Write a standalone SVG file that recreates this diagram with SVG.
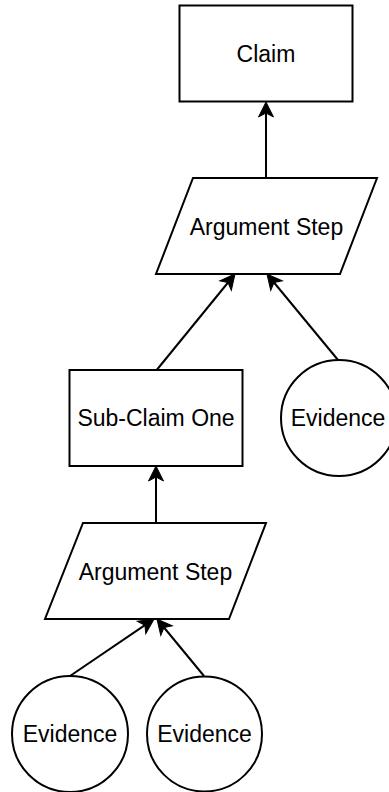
<svg xmlns="http://www.w3.org/2000/svg" width="389" height="792" viewBox="0 0 389 792">
  <style>
    .shape { fill: #ffffff; stroke: #000000; stroke-width: 2; }
    .label { font-family: "Liberation Sans", Arial, Helvetica, sans-serif; font-size: 23px; fill: #000000; text-anchor: middle; dominant-baseline: central; }
    .edge { fill: none; stroke: #000000; stroke-width: 2; marker-end: url(#arrow); }
  </style>
  <defs>
    <!-- classic filled arrowhead; the line ends at the notch, the tip sits 11px further on -->
    <marker id="arrow" markerUnits="userSpaceOnUse" markerWidth="20" markerHeight="20" viewBox="-6 -10 20 20" refX="0" refY="0" orient="auto">
      <path d="M-4,-7.5 L11,0 L-4,7.5 L0,0 Z" fill="#000000" stroke="#000000" stroke-width="1"/>
    </marker>
  </defs>
  <rect width="389" height="792" fill="#ffffff"/>

  <g id="connectors">
    <line class="edge" x1="266" y1="178" x2="266" y2="113"/>
    <line class="edge" x1="156.7" y1="370" x2="228.05" y2="282.5"/>
    <line class="edge" x1="338" y1="360" x2="274" y2="282.5"/>
    <line class="edge" x1="156" y1="523" x2="156" y2="477"/>
    <line class="edge" x1="70" y1="676" x2="144.9" y2="625.2"/>
    <line class="edge" x1="204" y1="676" x2="164" y2="627.5"/>
  </g>

  <g id="claim">
    <rect class="shape" x="179.5" y="5.5" width="173" height="96"/>
    <text class="label" x="266" y="54">Claim</text>
  </g>

  <g id="argument-step-top">
    <polygon class="shape" points="193,178 377,178 340,274 156,274"/>
    <text class="label" x="266.5" y="227">Argument Step</text>
  </g>

  <g id="sub-claim-one">
    <rect class="shape" x="69.5" y="370" width="173" height="96"/>
    <text class="label" x="156" y="418">Sub-Claim One</text>
  </g>

  <g id="evidence-right">
    <circle class="shape" cx="339" cy="418" r="58"/>
    <text class="label" x="338" y="418">Evidence</text>
  </g>

  <g id="argument-step-bottom">
    <polygon class="shape" points="83,523 266,523 229,619 45,619"/>
    <text class="label" x="155.5" y="572">Argument Step</text>
  </g>

  <g id="evidence-left">
    <circle class="shape" cx="70" cy="734" r="58"/>
    <text class="label" x="70" y="734">Evidence</text>
  </g>

  <g id="evidence-middle">
    <circle class="shape" cx="204.5" cy="734" r="57.5"/>
    <text class="label" x="204.5" y="734">Evidence</text>
  </g>
</svg>
